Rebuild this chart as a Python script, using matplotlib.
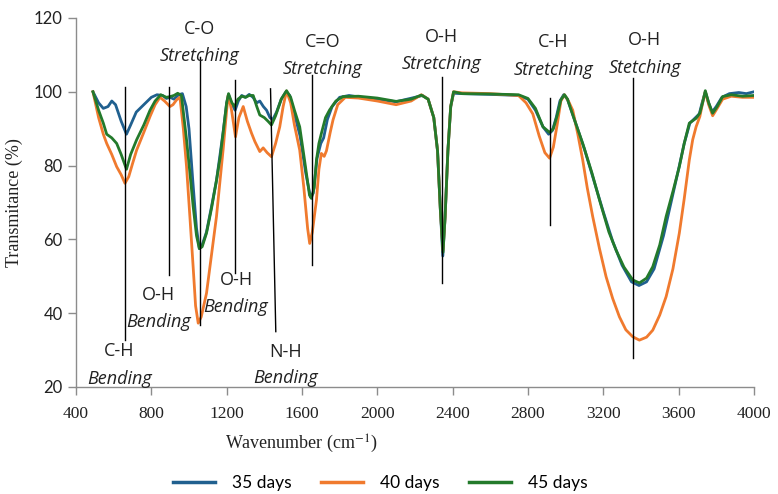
import matplotlib
matplotlib.use("Agg")
import matplotlib.pyplot as plt

# ---------------- data ----------------
wn_35 = [490, 520, 545, 570, 590, 610, 640, 668, 690, 720, 760, 800, 830, 860, 880, 900, 920, 945, 965,
         985, 1000, 1020, 1040, 1055, 1070, 1093, 1120, 1146, 1165, 1181, 1200, 1210, 1225, 1245, 1262,
         1280, 1300, 1320, 1340, 1360, 1376, 1395, 1412, 1430, 1445, 1465, 1490, 1515, 1535, 1560, 1590,
         1620, 1645, 1660, 1680, 1700, 1715, 1735, 1760, 1800, 1850, 1900, 2000, 2100, 2200, 2240, 2270,
         2300, 2320, 2335, 2348, 2360, 2375, 2390, 2405, 2450, 2600, 2750, 2800, 2840, 2880, 2910, 2930,
         2950, 2970, 2990, 3010, 3050, 3100, 3150, 3200, 3250, 3300, 3350, 3390, 3430, 3470, 3520, 3560,
         3600, 3630, 3660, 3690, 3710, 3725, 3742, 3760, 3778, 3800, 3830, 3870, 3920, 3960, 4000]
t_35 = [100, 97, 95.5, 96, 97.5, 96.5, 92, 88.5, 91, 94.5, 96.5, 98.5, 99.2, 99, 98.2, 98.5, 98, 99.2, 99.5,
        96, 90, 76, 63, 57.5, 58.5, 62, 69, 76, 83, 89, 97, 99.2, 97, 95, 97.5,
        99, 98.5, 99.3, 98.5, 97, 97.5, 96, 95, 93, 92.5, 94.5, 98, 100, 99, 94, 88,
        78, 71.5, 72.5, 82, 86, 87.5, 92.5, 96, 98.5, 99, 98.6, 98, 97.3, 98.5, 99, 98,
        93, 84, 68, 55.5, 66, 84, 96, 99.6, 99.5, 99.3, 99, 98, 95, 90.5, 88.5, 89.5,
        93, 97.5, 99.2, 98, 92, 84.5, 76, 67.5, 59.5, 53, 48.5, 47.5, 48.5, 52, 61, 70,
        79, 86, 91.5, 93, 94, 97, 100, 97, 94.5, 96, 98.5, 99.5, 99.8, 99.5, 100]

wn_40 = [490, 520, 545, 563, 590, 616, 640, 660, 680, 700, 722, 760, 793, 820, 846, 870, 899, 915, 934, 952,
         970, 987, 1005, 1022, 1035, 1049, 1065, 1093, 1120, 1146, 1165, 1181, 1200, 1208, 1218, 1226,
         1247, 1265, 1288, 1310, 1332, 1350, 1376, 1394, 1415, 1438, 1460, 1482, 1500, 1518, 1540, 1560,
         1588, 1610, 1630, 1641, 1655, 1677, 1690, 1703, 1718, 1730, 1750, 1765, 1790, 1830, 1900, 2000,
         2100, 2180, 2234, 2270, 2300, 2320, 2335, 2349, 2360, 2375, 2390, 2405, 2450, 2600, 2750, 2790,
         2826, 2860, 2890, 2915, 2935, 2955, 2975, 2994, 3015, 3038, 3065, 3091, 3115, 3144, 3180, 3215,
         3250, 3286, 3320, 3357, 3392, 3430, 3463, 3500, 3534, 3570, 3604, 3630, 3657, 3675, 3693, 3713,
         3730, 3742, 3760, 3781, 3805, 3834, 3880, 3940, 4000]
t_40 = [100, 93, 88.5, 86, 83, 79.7, 77.5, 75.2, 77, 80.5, 84.2, 89, 93.3, 96.5, 98.5, 97.5, 96, 96.5, 97.8, 98.5,
        90, 79.7, 66, 52.6, 42, 37.3, 39, 45.4, 56, 66.2, 76, 84.2, 95, 99, 97, 95,
        87.8, 93, 96, 92, 88.8, 86.5, 83.8, 84.8, 83.5, 82.4, 86, 90.5, 96, 100.2, 97, 91,
        84.2, 74, 63, 58.9, 62, 70.7, 79, 83.3, 82.5, 84, 89, 92.4, 96.5, 98.5, 98.3, 97.5,
        96.5, 97.5, 99.2, 98, 93, 84, 68, 57, 66, 84, 96, 100, 99.7, 99.5, 99, 97,
        94, 88, 83.5, 82, 85, 91, 97.5, 99.2, 97.5, 95, 88.5, 81.5, 74, 66.2, 57.5, 49.9,
        44, 39, 35.5, 33.6, 32.7, 33.5, 35.4, 39.5, 44.5, 52, 61.7, 71, 81.5, 87, 90.5, 93.3,
        97.5, 100, 96.5, 93.5, 95.5, 98, 98.8, 98.5, 98.5]

wn_45 = [490, 520, 545, 563, 590, 616, 640, 668, 690, 722, 760, 793, 820, 850, 880, 900, 920, 940, 960,
         987, 1005, 1022, 1040, 1055, 1070, 1093, 1120, 1146, 1165, 1181, 1200, 1210, 1228, 1243, 1260,
         1280, 1300, 1320, 1341, 1360, 1376, 1400, 1420, 1438, 1460, 1490, 1518, 1540, 1560, 1588, 1615,
         1640, 1650, 1665, 1677, 1690, 1703, 1725, 1747, 1780, 1818, 1900, 2000, 2100, 2180, 2234, 2270,
         2300, 2320, 2335, 2349, 2360, 2375, 2390, 2405, 2450, 2600, 2750, 2800, 2840, 2880, 2915, 2935,
         2955, 2975, 2994, 3010, 3050, 3091, 3140, 3180, 3230, 3268, 3310, 3357, 3392, 3430, 3463, 3500,
         3534, 3570, 3604, 3630, 3657, 3693, 3713, 3730, 3742, 3760, 3781, 3805, 3834, 3880, 3940, 4000]
t_45 = [100, 95, 91.5, 88.5, 87.5, 86, 83, 79, 83, 87, 91, 95, 97.5, 99.2, 98.5, 98.7, 99, 99.6, 99,
        87, 78, 69, 61, 57.5, 58, 61.7, 68.5, 76, 82, 88.7, 97, 99.5, 97, 96, 98,
        98.8, 98.5, 99, 99, 96, 93.7, 93, 92, 91, 93.5, 98, 100.3, 98.5, 95, 90.5, 81,
        72, 71.1, 74, 81.5, 86, 88.7, 93, 95.1, 97.5, 98.7, 98.8, 98.3, 97.4, 98, 99.1, 98,
        93, 84, 68, 56.5, 66, 84, 96, 100, 99.5, 99.4, 99.2, 98.2, 95.5, 90.5, 89, 90,
        93.5, 97.8, 99.2, 98, 92, 86, 78, 70.7, 62, 57.1, 52.5, 49, 48.2, 49.5, 52.6, 58.5,
        66.2, 73, 79.7, 86, 91.5, 92.8, 94.2, 97.5, 100.3, 97, 94.2, 96, 98.7, 99.2, 98.8, 99]

series_labels = ["35 days", "40 days", "45 days"]
series_colors = ["#20608F", "#F07A2E", "#237A2B"]

x_ticks = [400, 800, 1200, 1600, 2000, 2400, 2800, 3200, 3600, 4000]
y_ticks = [20, 40, 60, 80, 100, 120]

# annotation vertical lines: (x_top, y_top, x_bottom, y_bottom)
ann_lines = [
    (660, 101.4, 660, 32.7),
    (895, 101.4, 895, 50.4),
    (1058, 109.5, 1058, 36.8),
    (1243, 103.2, 1243, 50.8),
    (1433, 100.8, 1461, 35.0),
    (1652, 104.6, 1652, 53.0),
    (2345, 104.1, 2345, 48.2),
    (2915, 98.2, 2915, 63.9),
    (3358, 103.7, 3358, 27.8),
]
# annotation texts: (group, kind, x, y_group, y_kind)
ann_texts = [
    ("C-H", "Bending", 630, 29.8, 22.3),
    ("O-H", "Bending", 840, 44.9, 37.6),
    ("C-O", "Stretching", 1058, 117.0, 109.8),
    ("O-H", "Bending", 1250, 49.0, 41.8),
    ("N-H", "Bending", 1515, 29.6, 22.4),
    ("C=O", "Stretching", 1710, 113.5, 106.3),
    ("O-H", "Stretching", 2340, 114.8, 107.4),
    ("C-H", "Stretching", 2935, 113.5, 106.0),
    ("O-H", "Stetching", 3420, 114.0, 106.5),
]

# ---------------- plot ----------------
plt.rcParams["mathtext.fontset"] = "stix"
fig = plt.figure(figsize=(7.78, 4.94), dpi=100)
ax = fig.add_axes([0.0977, 0.2166, 0.8713, 0.747])

for wn, t, lab, col in zip([wn_35, wn_40, wn_45], [t_35, t_40, t_45], series_labels, series_colors):
    ax.plot(wn, t, color=col, lw=2.0, label=lab, solid_joinstyle="round", zorder=2)

for x0, y0, x1, y1 in ann_lines:
    ax.plot([x0, x1], [y0, y1], color="black", lw=1.0, zorder=3)

afont = "Open Sans"
for g, k, x, yg, yk in ann_texts:
    ax.text(x, yg, g, ha="center", va="center", fontsize=13, family=afont, color="#222222", zorder=4)
    ax.text(x, yk, k, ha="center", va="center", fontsize=13, family=afont, style="italic",
            color="#222222", zorder=4)

ax.set_xlim(400, 4000)
ax.set_ylim(20, 120)
ax.set_xticks(x_ticks)
ax.set_yticks(y_ticks)
ax.set_xticklabels([str(v) for v in x_ticks], family="Liberation Serif", fontsize=12.5)
ax.set_yticklabels([str(v) for v in y_ticks], family="Lato", fontsize=12)
for s in ["top", "right"]:
    ax.spines[s].set_visible(False)
for s in ["left", "bottom"]:
    ax.spines[s].set_color("#8c8c8c")
    ax.spines[s].set_linewidth(1.0)
ax.tick_params(axis="both", colors="#8c8c8c", length=6, width=1.0, labelcolor="#222222")
ax.tick_params(axis="x", pad=8)

ax.set_xlabel("Wavenumber (cm$^{-1}$)", family="Liberation Serif", fontsize=13, color="#222222")
ax.xaxis.set_label_coords(0.333, -0.123)
ax.set_ylabel("Transmitance (%)", family="Liberation Serif", fontsize=13, color="#222222", labelpad=8)

leg = fig.legend(loc="center", bbox_to_anchor=(0.489, 0.022), ncol=3, frameon=False,
                 prop={"family": "Lato", "size": 12.5}, handlelength=2.4, handletextpad=1.0,
                 columnspacing=1.7)
for h in leg.get_lines():
    h.set_linewidth(2.5)

fig.savefig("out.png", dpi=100)
